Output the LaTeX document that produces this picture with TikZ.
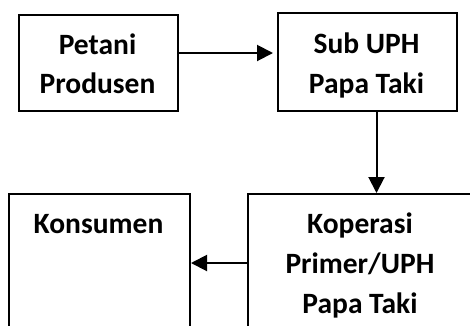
\documentclass[tikz,border=0pt]{standalone}
\usepackage{fontspec}
\setmainfont{Carlito}
\usetikzlibrary{arrows.meta}
\begin{document}
\begin{tikzpicture}[x=1pt,y=1pt,
  box/.style={draw=black,line width=2pt,fill=white,inner sep=0pt},
  txt/.style={font=\fontsize{29.5}{40}\selectfont\bfseries,inner sep=0pt,anchor=base},
  arr/.style={line width=2pt,-{Triangle[length=16pt,width=16pt]}}]
\clip (0,0) rectangle (470,-325);
\fill[white] (0,0) rectangle (470,-325);
% boxes
\node[box,minimum width=159,minimum height=96,anchor=north west] (p1) at (18,-14) {};
\node[box,minimum width=179,minimum height=98,anchor=north west] (sub) at (277,-12) {};
\node[box,minimum width=181,minimum height=160,anchor=north west] (kons) at (8,-193) {};
\node[box,minimum width=230,minimum height=160,anchor=north west] (kop) at (247,-193) {};
% texts
\node[txt] (t1a) at (97.5,-54) {Petani};
\node[txt] (t1b) at (97.5,-93) {Produsen};
\node[txt] (t2a) at (366.5,-53) {Sub UPH};
\node[txt] (t2b) at (366.5,-93) {Papa Taki};
\node[txt] (t3) at (98.5,-233) {Konsumen};
\node[txt] (t4a) at (360,-233) {Koperasi};
\node[txt] (t4b) at (360,-273) {Primer/UPH};
\node[txt] (t4c) at (360,-313) {Papa Taki};
% connectors
\draw[arr,shorten >=4pt] ([yshift=10pt]p1.east) -- ([yshift=10pt]p1.east -| sub.west);
\draw[arr] ([xshift=9pt]sub.south) -- ([xshift=9pt]sub.south |- kop.north);
\draw[arr] ([yshift=-70pt]kop.north west) -- ([yshift=-70pt]kop.north west -| kons.east);
\end{tikzpicture}
\end{document}
